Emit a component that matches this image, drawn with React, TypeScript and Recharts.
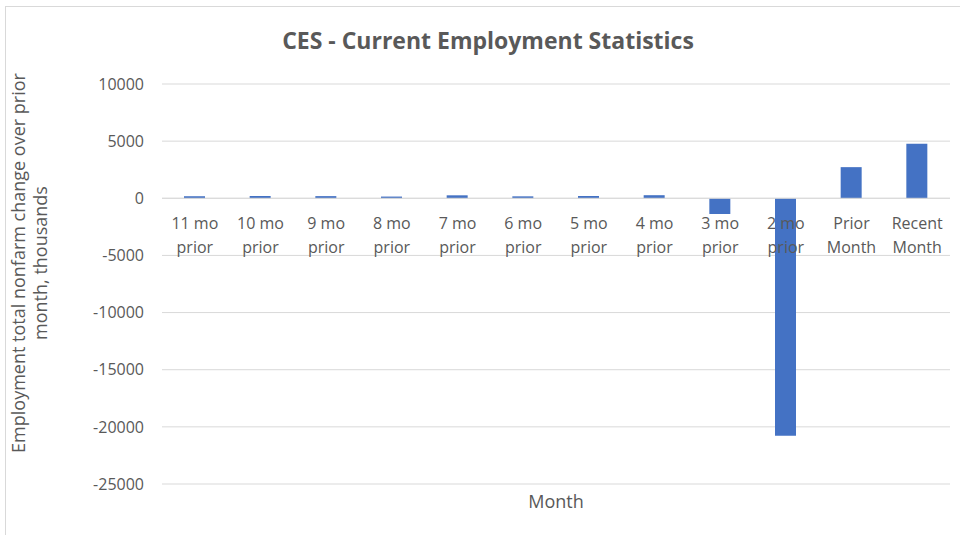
import React from 'react';
import { BarChart, Bar, XAxis, YAxis, CartesianGrid, ReferenceLine } from 'recharts';

const months = [
  '11 mo prior', '10 mo prior', '9 mo prior', '8 mo prior', '7 mo prior', '6 mo prior',
  '5 mo prior', '4 mo prior', '3 mo prior', '2 mo prior', 'Prior Month', 'Recent Month',
];
const changes = [180, 200, 190, 150, 260, 170, 200, 270, -1373, -20787, 2725, 4781];
const yTicks = [-25000, -20000, -15000, -10000, -5000, 0, 5000, 10000];

const chartData = months.map((m, i) => ({ month: m, change: changes[i] }));

const W = 960;
const H = 535;
const TOP = 84;
const BOTTOM = 51;
const Y_MIN = yTicks[0];
const Y_MAX = yTicks[yTicks.length - 1];
const FONT = '"Open Sans", sans-serif';
const TEXT = '#595959';
const GRID = '#d9d9d9';

// labels sit under the zero line, not at the bottom of the plot
const zeroLift = ((H - TOP - BOTTOM) * (0 - Y_MIN)) / (Y_MAX - Y_MIN);

function MonthTick({ x, y, payload }: any) {
  const s = String(payload.value);
  const cut = s.lastIndexOf(' ');
  const lines = [s.slice(0, cut), s.slice(cut + 1)];
  const y0 = y - zeroLift;
  return (
    <g>
      {lines.map((l, i) => (
        <text key={i} x={x} y={y0 + 23 + i * 24} textAnchor="middle" dominantBaseline="central"
          fill={TEXT} fontSize={16} fontFamily={FONT}>
          {l}
        </text>
      ))}
    </g>
  );
}

export default function App() {
  return (
    <div style={{ position: 'relative', width: W, height: H, background: '#fff' }}>
      <style>{'body{margin:0}'}</style>
      <BarChart width={W} height={H} data={chartData} margin={{ top: TOP, right: 10, bottom: 0, left: 0 }}>
        <CartesianGrid stroke={GRID} vertical={false} />
        <XAxis dataKey="month" axisLine={false} tickLine={false} tickSize={0} height={BOTTOM}
          interval={0} tick={<MonthTick />}
          label={{ value: 'Month', position: 'insideBottom', offset: 27, fill: TEXT, fontSize: 18, fontFamily: FONT }} />
        <YAxis domain={[Y_MIN, Y_MAX]} ticks={yTicks} width={162} axisLine={false} tickLine={false}
          tickSize={0} tickMargin={18} tick={{ fill: TEXT, fontSize: 16, fontFamily: FONT }} />
        <ReferenceLine y={0} stroke={GRID} />
        <Bar dataKey="change" fill="#4472C4" barSize={21} isAnimationActive={false} />
      </BarChart>
      <svg width={W} height={H} style={{ position: 'absolute', left: 0, top: 0, pointerEvents: 'none' }}>
        <rect x={5.5} y={6.5} width={W} height={H} fill="none" stroke={GRID} />
        <text x={488} y={49} textAnchor="middle" fill={TEXT} fontSize={23} fontWeight="bold" fontFamily={FONT}>
          CES - Current Employment Statistics
        </text>
        <g fill={TEXT} fontSize={18} fontFamily={FONT} textAnchor="middle" dominantBaseline="central">
          <text x={18} y={263} transform="rotate(-90 18 263)">Employment total nonfarm change over prior</text>
          <text x={40} y={263} transform="rotate(-90 40 263)">month, thousands</text>
        </g>
      </svg>
    </div>
  );
}
